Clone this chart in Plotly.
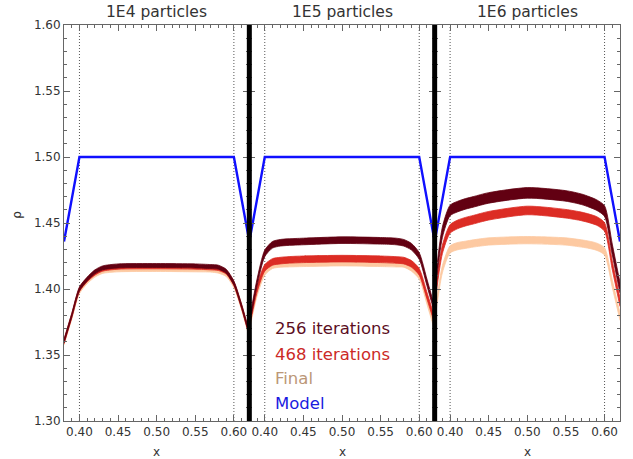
import plotly.graph_objects as go
from plotly.subplots import make_subplots

# ---- data -------------------------------------------------------------
panel_titles = ["1E4 particles", "1E5 particles", "1E6 particles"]

x_samples = [0.38, 0.39, 0.40, 0.41, 0.42, 0.43, 0.45, 0.50,
             0.55, 0.57, 0.58, 0.59, 0.60, 0.61, 0.62]

# density profiles (centre of the particle cloud) per panel
rho_256 = [
    [1.3605, 1.380, 1.400, 1.4075, 1.413, 1.416, 1.4175, 1.4178,
     1.4175, 1.417, 1.4165, 1.4135, 1.4045, 1.387, 1.366],
    [1.374, 1.405, 1.427, 1.4335, 1.435, 1.4355, 1.436, 1.437,
     1.4365, 1.436, 1.435, 1.432, 1.425, 1.405, 1.384],
    [1.398, 1.443, 1.4595, 1.4625, 1.4645, 1.466, 1.469, 1.4728,
     1.4705, 1.468, 1.466, 1.4635, 1.459, 1.430, 1.401],
]
rho_468 = [
    [1.3600, 1.3795, 1.3995, 1.407, 1.412, 1.415, 1.4165, 1.4168,
     1.4165, 1.416, 1.4155, 1.4128, 1.404, 1.3865, 1.3655],
    [1.373, 1.400, 1.416, 1.4205, 1.4215, 1.422, 1.4225, 1.423,
     1.4225, 1.422, 1.4215, 1.419, 1.413, 1.395, 1.376],
    [1.391, 1.430, 1.4455, 1.449, 1.451, 1.4525, 1.4555, 1.4595,
     1.457, 1.455, 1.4535, 1.4515, 1.447, 1.418, 1.390],
]
rho_final = [
    [1.3595, 1.379, 1.3985, 1.406, 1.411, 1.4138, 1.415, 1.4153,
     1.415, 1.4148, 1.414, 1.4115, 1.403, 1.386, 1.365],
    [1.371, 1.397, 1.413, 1.418, 1.419, 1.4192, 1.4195, 1.420,
     1.4195, 1.4192, 1.419, 1.416, 1.410, 1.391, 1.371],
    [1.378, 1.415, 1.430, 1.4325, 1.4335, 1.4345, 1.436, 1.437,
     1.436, 1.4345, 1.4335, 1.432, 1.4285, 1.404, 1.379],
]
# vertical scatter width of each particle cloud per panel
spread_256 = [0.003, 0.005, 0.008]
spread_468 = [0.003, 0.005, 0.0065]
spread_final = [0.004, 0.005, 0.0055]

model_x = [0.38, 0.40, 0.60, 0.62]
model_rho = [1.436, 1.50, 1.50, 1.436]

series_names = ["Final", "468 iterations", "256 iterations"]
series_colors = ["#fdc9a1", "#dc2c24", "#620012"]
legend_lines = ["256 iterations", "468 iterations", "Final", "Model"]
legend_colors = ["#5c0f1f", "#cc2a26", "#bb9777", "#1a1ae0"]

x_range = [0.38, 0.62]
y_range = [1.30, 1.60]
boundary_x = [0.40, 0.60]

# ---- figure ------------------------------------------------------------
fig = make_subplots(rows=1, cols=3, shared_yaxes=True, horizontal_spacing=0)

axis_grey = "#666666"
label_font = dict(family="DejaVu Sans", size=12, color="#333333")

for p in range(3):
    col = p + 1
    # model profile
    fig.add_trace(go.Scatter(x=model_x, y=model_rho, mode="lines",
                             line=dict(color="#1010ff", width=2.4),
                             showlegend=False, hoverinfo="skip"),
                  row=1, col=col)
    # particle clouds, drawn as bands
    clouds = [(rho_final[p], spread_final[p]),
              (rho_468[p], spread_468[p]),
              (rho_256[p], spread_256[p])]
    for (centre, spread), color, name in zip(clouds, series_colors, series_names):
        lo = [c - spread / 2 for c in centre]
        hi = [c + spread / 2 for c in centre]
        fig.add_trace(go.Scatter(x=x_samples, y=lo, mode="lines",
                                 line=dict(color=color, width=0.8,
                                           shape="spline", smoothing=0.7),
                                 showlegend=False, hoverinfo="skip", name=name),
                      row=1, col=col)
        fig.add_trace(go.Scatter(x=x_samples, y=hi, mode="lines",
                                 line=dict(color=color, width=0.8,
                                           shape="spline", smoothing=0.7),
                                 fill="tonexty", fillcolor=color,
                                 showlegend=False, hoverinfo="skip", name=name),
                      row=1, col=col)
    # dotted boundaries
    xref = "x" if p == 0 else f"x{col}"
    for bx in boundary_x:
        fig.add_shape(type="line", xref=xref, yref="paper", x0=bx, x1=bx,
                      y0=0, y1=1,
                      line=dict(color="#555555", width=1, dash="1px,2px"),
                      layer="below")
    # panel title
    fig.add_annotation(text=panel_titles[p], xref="paper", yref="paper",
                       x=(p + 0.5) / 3, y=1.032, showarrow=False,
                       xanchor="center", yanchor="middle",
                       font=dict(family="DejaVu Sans", size=15.5, color="#333333"))
    # x title
    fig.add_annotation(text="x", xref="paper", yref="paper",
                       x=(p + 0.5) / 3, y=-0.078, showarrow=False,
                       xanchor="center", yanchor="middle",
                       font=dict(family="DejaVu Sans", size=12, color="#333333"))

# thick separators between panels
for sx in [1 / 3, 2 / 3]:
    fig.add_shape(type="line", xref="paper", yref="paper", x0=sx, x1=sx,
                  y0=0, y1=1, line=dict(color="black", width=5))

fig.update_xaxes(range=x_range, tick0=0.40, dtick=0.05, tickformat=".2f",
                 ticks="inside", ticklen=6, tickcolor=axis_grey,
                 showline=True, linecolor=axis_grey, linewidth=1,
                 mirror="ticks", showgrid=False, zeroline=False,
                 tickfont=label_font,
                 minor=dict(dtick=0.01, tick0=0.40, ticks="inside", ticklen=3,
                            tickcolor=axis_grey, showgrid=False))
fig.update_yaxes(range=y_range, tick0=1.30, dtick=0.05, tickformat=".2f",
                 ticks="inside", ticklen=6, tickcolor=axis_grey,
                 showline=True, linecolor=axis_grey, linewidth=1,
                 mirror="ticks", showgrid=False, zeroline=False,
                 tickfont=label_font,
                 minor=dict(dtick=0.01, tick0=1.30, ticks="inside", ticklen=3,
                            tickcolor=axis_grey, showgrid=False))

# y title
fig.add_annotation(text="ρ", xref="paper", yref="paper", x=-0.085, y=0.52,
                   showarrow=False, textangle=-90, xanchor="center",
                   yanchor="middle",
                   font=dict(family="DejaVu Sans", size=12, color="#333333"))

# text legend
legend_y = [328, 354, 378, 403.5]
for txt, col_, ypx in zip(legend_lines, legend_colors, legend_y):
    fig.add_annotation(text=txt, xref="paper", yref="paper",
                       x=(272.5 - 64) / 556, y=1 - (ypx - 25) / 396,
                       showarrow=False, xanchor="left", yanchor="middle",
                       font=dict(family="DejaVu Sans", size=16.5, color=col_))

fig.update_layout(width=633, height=459,
                  margin=dict(l=64, r=13, t=25, b=38),
                  paper_bgcolor="white", plot_bgcolor="white",
                  showlegend=False)

fig.write_html("out.html")
